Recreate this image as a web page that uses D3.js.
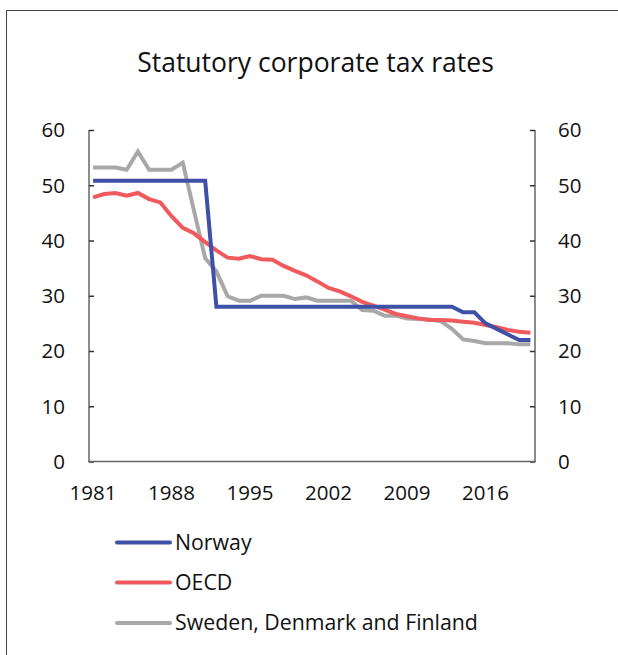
<!DOCTYPE html>
<html>
<head>
<meta charset="utf-8">
<script src="https://cdn.jsdelivr.net/npm/d3@7/dist/d3.min.js"></script>
<style>
  html, body { margin: 0; padding: 0; background: #fff; }
  svg { display: block; font-family: "Open Sans", "Noto Sans", sans-serif; }
</style>
</head>
<body>
<svg id="chart" width="618" height="655"></svg>
<script>
const years = d3.range(1981, 2021);
const norway = [50.8,50.8,50.8,50.8,50.8,50.8,50.8,50.8,50.8,50.8,50.8,
  28,28,28,28,28,28,28,28,28,28,28,28,28,28,28,28,28,28,28,28,28,28,
  27,27,25,24,23,22,22];
const oecd = [47.8,48.4,48.6,48.1,48.6,47.5,46.9,44.4,42.3,41.3,39.7,38.2,36.9,36.7,37.2,36.6,36.5,35.4,34.5,33.7,
  32.6,31.4,30.8,29.9,28.9,28.2,27.5,26.7,26.3,25.9,25.6,25.6,25.5,25.3,25.1,24.7,24.3,23.8,23.5,23.3];
const nordic = [53.2,53.2,53.2,52.8,56.1,52.8,52.8,52.8,54.1,45.4,36.8,34.4,29.9,29.1,29.1,30.0,30.0,30.0,29.4,29.7,
  29.1,29.1,29.1,29.1,27.4,27.3,26.4,26.4,25.9,25.8,25.7,25.4,24.0,22.1,21.8,21.4,21.4,21.4,21.2,21.2];
const yTicks = [0, 10, 20, 30, 40, 50, 60];
const xTicks = [1981, 1988, 1995, 2002, 2009, 2016];
const seriesNames = ["Norway", "OECD", "Sweden, Denmark and Finland"];
const seriesColors = ["#3f51a6", "#f05a5c", "#a8a8a8"];
const title = "Statutory corporate tax rates";

const svg = d3.select("#chart");
const L = 89, R = 535, T = 130, B = 461.5;

// frame
svg.append("path").attr("d", "M6.5,655 V10.5 H618").attr("fill", "none").attr("stroke", "#444").attr("stroke-width", 1);

svg.append("text").attr("x", 315.5).attr("y", 72).attr("text-anchor", "middle")
  .attr("font-size", 26.5).attr("fill", "#111").text(title);

const x = d3.scaleLinear().domain([1980.55, 2020.5]).range([L - 1, R + 1]);
const y = d3.scaleLinear().domain([0, 60]).range([B, T]);

const axisColor = "#666";
const gL = svg.append("g").attr("transform", `translate(${L},0)`)
  .call(d3.axisRight(y).tickValues(yTicks).tickSize(5).tickFormat(""));
const gR = svg.append("g").attr("transform", `translate(${R},0)`)
  .call(d3.axisLeft(y).tickValues(yTicks).tickSize(5).tickFormat(""));
[gL, gR].forEach(g => {
  g.select(".domain").attr("stroke", axisColor).attr("stroke-width", 1.5).attr("d", `M0,${T}V${B}`);
  g.selectAll(".tick line").attr("stroke", "#333").attr("stroke-width", 1.5);
});
svg.append("line").attr("x1", L - 1).attr("x2", R + 1).attr("y1", B).attr("y2", B)
  .attr("stroke", axisColor).attr("stroke-width", 1.5);

svg.append("g").selectAll("text").data(yTicks).join("text")
  .attr("x", 65).attr("y", d => y(d)).attr("dy", "0.36em").attr("text-anchor", "end")
  .attr("font-size", 20.5).attr("fill", "#111").text(d => d);
svg.append("g").selectAll("text").data(yTicks).join("text")
  .attr("x", 558).attr("y", d => y(d)).attr("dy", "0.36em").attr("text-anchor", "start")
  .attr("font-size", 20.5).attr("fill", "#111").text(d => d);
svg.append("g").selectAll("text").data(xTicks).join("text")
  .attr("x", d => x(d)).attr("y", 500).attr("text-anchor", "middle")
  .attr("font-size", 20.5).attr("fill", "#111").text(d => d);

const line = d3.line().x((d, i) => x(years[i])).y(d => y(d));
const data = [nordic, oecd, norway];
const colorsOrder = [seriesColors[2], seriesColors[1], seriesColors[0]];
svg.append("g").selectAll("path").data(data).join("path")
  .attr("d", d => line(d)).attr("fill", "none")
  .attr("stroke", (d, i) => colorsOrder[i]).attr("stroke-width", 4)
  .attr("stroke-linejoin", "miter");

const legY = [542.5, 582.5, 623];
const leg = svg.append("g").selectAll("g").data(seriesNames).join("g")
  .attr("transform", (d, i) => `translate(0,${legY[i]})`);
leg.append("line").attr("x1", 117).attr("x2", 170).attr("y1", 0).attr("y2", 0)
  .attr("stroke", (d, i) => seriesColors[i]).attr("stroke-width", 4).attr("stroke-linecap", "round");
leg.append("text").attr("x", 175).attr("y", 0).attr("dy", "0.34em")
  .attr("font-size", 21.3).attr("fill", "#111").text(d => d);
</script>
</body>
</html>
